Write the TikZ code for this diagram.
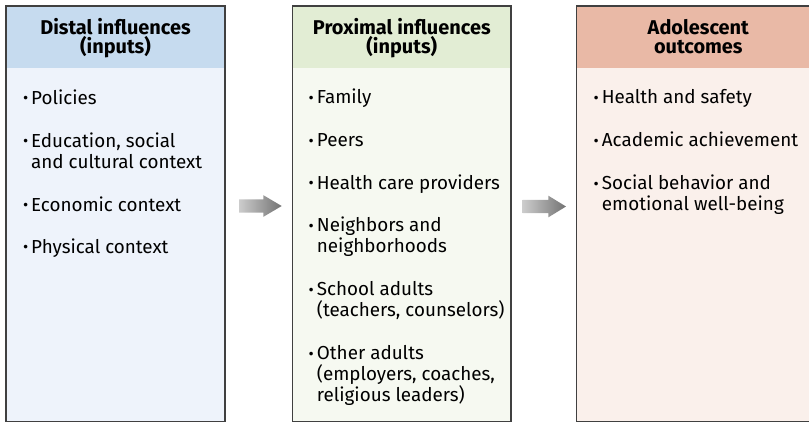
\documentclass[tikz,border=0pt]{standalone}
\usepackage{fontspec}
\setmainfont{Fira Sans}
\begin{document}
\begin{tikzpicture}[x=1bp,y=-1bp,
  frame/.style={draw=black!75,line width=1.4bp},
  head/.style={anchor=base,font=\bfseries\fontsize{20}{19}\selectfont,align=center,text=black,inner sep=0pt},
  item/.style={anchor=base west,font=\fontsize{18.9}{21}\selectfont,align=left,text=black,inner sep=0pt},
  flow/.style={left color=black!20,right color=black!55,draw=none}]
\useasboundingbox (0,0) rectangle (809,423);
\clip (0,0) rectangle (809,423);
\newcommand\bul{\llap{{\fontsize{16}{16}\selectfont\raisebox{0.5bp}{•}}\hspace{3bp}}}
\definecolor{bluehead}{HTML}{C6DBEF}
\definecolor{bluebody}{HTML}{EEF3FB}
\definecolor{greenhead}{HTML}{E2EDD4}
\definecolor{greenbody}{HTML}{F6F9F1}
\definecolor{redhead}{HTML}{E9B9A6}
\definecolor{redbody}{HTML}{FAF0EB}
% box corners
\coordinate (b1nw) at (6,6);     \coordinate (b1se) at (225,421.7);
\coordinate (b2nw) at (292.7,6); \coordinate (b2se) at (511,421.7);
\coordinate (b3nw) at (576.7,6); \coordinate (b3se) at (820,421.7);
% panels
\fill[bluebody]  (b1nw) rectangle (b1se);
\fill[bluehead]  (b1nw) rectangle (225,68);
\draw[frame] (b1nw) rectangle (b1se);
\fill[greenbody] (b2nw) rectangle (b2se);
\fill[greenhead] (b2nw) rectangle (511,68);
\draw[frame] (b2nw) rectangle (b2se);
\fill[redbody]   (b3nw) rectangle (b3se);
\fill[redhead]   (b3nw) rectangle (820,68);
\draw[frame] (b3nw) rectangle (b3se);
% headings (base anchor sits on the last line)
\node[head] (h1) at (115.5,53.8) {Distal influences\\(inputs)};
\node[head] (h2) at (401.8,53.8) {Proximal influences\\(inputs)};
\node[head] (h3) at (698.3,53.8) {Adolescent\\outcomes};
% distal items
\node[item] (d1) at (31,104)   {\bul Policies};
\node[item] (d2) at (31,168.3) {\bul Education, social\\and cultural context};
\node[item] (d3) at (31,211)   {\bul Economic context};
\node[item] (d4) at (31,253.3) {\bul Physical context};
% proximal items
\node[item] (p1) at (316.7,103.5) {\bul Family};
\node[item] (p2) at (316.7,146.7) {\bul Peers};
\node[item] (p3) at (316.7,189.3) {\bul Health care providers};
\node[item] (p4) at (316.7,252.7) {\bul Neighbors and\\neighborhoods};
\node[item] (p5) at (316.7,316.5) {\bul School adults\\(teachers, counselors)};
\node[item] (p6) at (316.7,401.5) {\bul Other adults\\(employers, coaches,\\religious leaders)};
% outcome items
\node[item] (o1) at (601.7,103.5) {\bul Health and safety};
\node[item] (o2) at (601.7,146.7) {\bul Academic achievement};
\node[item] (o3) at (601.7,210.5) {\bul Social behavior and\\emotional well-being};
% flow arrows between the panels
\coordinate (a1) at (239,206);
\coordinate (a2) at (522.7,206.5);
\shade[flow] (a1) ++(0,-6.7) -- ++(24.3,0) -- ++(0,-4.15) -- ++(18.4,10.85)
  -- ++(-18.4,10.85) -- ++(0,-4.15) -- ++(-24.3,0) -- cycle;
\shade[flow] (a2) ++(0,-6.7) -- ++(25.6,0) -- ++(0,-4.15) -- ++(17.7,10.85)
  -- ++(-17.7,10.85) -- ++(0,-4.15) -- ++(-25.6,0) -- cycle;
\end{tikzpicture}
\end{document}
